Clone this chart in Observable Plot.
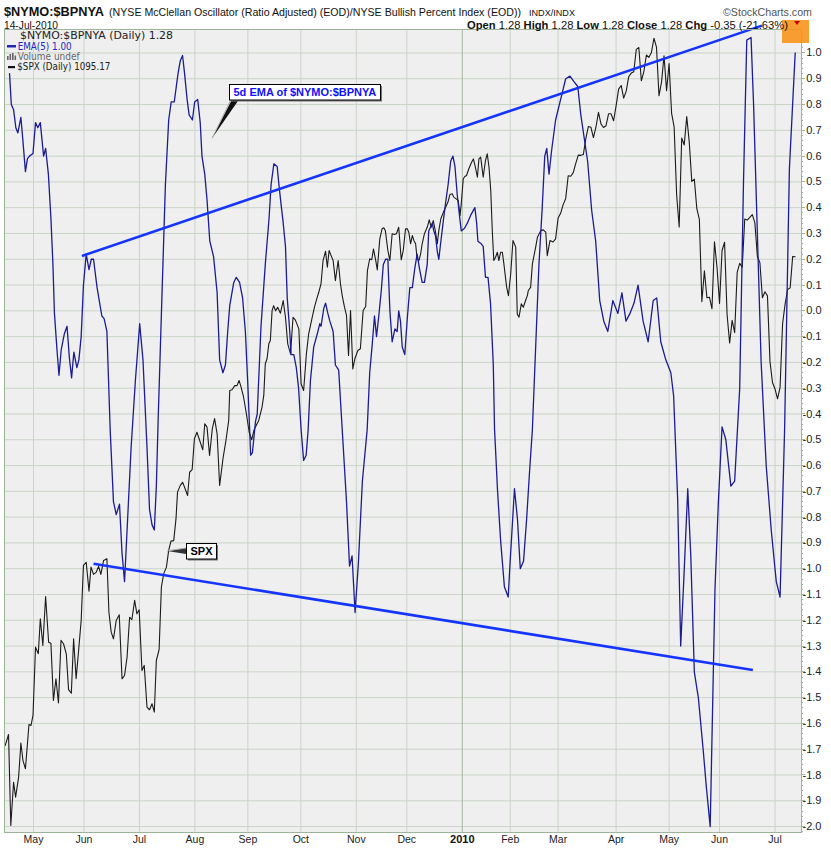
<!DOCTYPE html>
<html><head><meta charset="utf-8">
<script src="https://cdn.jsdelivr.net/npm/d3@7"></script>
<script src="https://cdn.jsdelivr.net/npm/@observablehq/plot@0.6"></script>
<style>
body{margin:0;background:#fff;}
#wrap{position:relative;width:831px;height:848px;overflow:hidden;}
#wrap svg{position:absolute;left:0;top:0;}
</style></head><body><div id="wrap"></div>
<script>
// ---- axis tick values / labels (x = trading-day index, 0 = 1 May 2009) ----
const yTicks = d3.range(-20, 11).map(d => d / 10);
const yMinor = d3.range(-101, 55).map(d => d / 50);
const monthDays = [0,20,42,64,85,106,128,148,170,189,208,231,252,272,294];
const monthLabels = ["May","Jun","Jul","Aug","Sep","Oct","Nov","Dec","2010","Feb","Mar","Apr","May","Jun","Jul"];

// ---- EMA(5) of $NYMO:$BPNYA  [trading day, value] ----
const ema = [[-9.5,0.92],[-8.8,0.80],[-7.9,0.78],[-7.0,0.71],[-6.2,0.69],[-5.0,0.75],[-4.2,0.66],[-3.2,0.54],[-2.4,0.59],[-1.6,0.60],[-0.2,0.61],[0.8,0.73],[1.7,0.71],[2.7,0.73],[4.0,0.60],[4.8,0.63],[5.9,0.53],[6.9,0.36],[7.7,0.18],[8.3,-0.01],[9.3,-0.15],[10.1,-0.25],[11.0,-0.15],[12.2,-0.09],[13.3,-0.06],[14.2,-0.18],[15.1,-0.26],[16.0,-0.16],[17.2,-0.22],[18.0,-0.19],[18.9,-0.10],[19.8,0.10],[20.9,0.22],[22.0,0.16],[22.9,0.20],[23.8,0.20],[25.2,0.09],[27.1,-0.02],[28.0,-0.03],[29.1,-0.08],[30.4,-0.46],[31.7,-0.74],[32.8,-0.79],[34.1,-0.75],[35.1,-0.94],[36.1,-1.05],[37.3,-0.81],[38.7,-0.53],[40.4,-0.27],[42.1,-0.05],[43.4,-0.19],[45.0,-0.53],[46.0,-0.77],[47.0,-0.83],[47.9,-0.85],[48.7,-0.68],[49.4,-0.43],[50.9,0.05],[52.3,0.49],[53.6,0.74],[54.6,0.81],[55.8,0.81],[57.3,0.92],[58.2,0.97],[59.1,0.99],[59.9,0.92],[60.9,0.82],[61.7,0.76],[63.0,0.74],[63.9,0.81],[65.1,0.82],[66.1,0.73],[66.8,0.60],[67.9,0.53],[68.8,0.43],[69.9,0.27],[71.4,0.21],[72.8,0.07],[73.8,-0.19],[75.1,-0.24],[76.1,-0.21],[77.0,-0.08],[77.8,0.02],[79.4,0.11],[80.4,0.13],[81.7,0.11],[82.9,0.05],[84.0,-0.08],[84.9,-0.27],[85.7,-0.46],[86.1,-0.56],[86.8,-0.55],[88.0,-0.43],[88.7,-0.40],[90.2,-0.06],[91.9,0.18],[93.4,0.36],[94.2,0.49],[95.3,0.57],[96.6,0.56],[97.4,0.48],[98.3,0.40],[98.9,0.35],[99.9,0.25],[100.6,0.05],[101.6,-0.08],[102.1,-0.17],[103.2,-0.17],[104.2,-0.22],[105.1,-0.30],[106.1,-0.46],[107.1,-0.58],[108.1,-0.56],[108.9,-0.46],[109.8,-0.27],[111.1,-0.14],[112.5,-0.09],[113.5,-0.05],[114.0,-0.06],[115.1,0.01],[115.8,0.03],[116.7,-0.01],[117.5,-0.04],[118.8,-0.08],[119.7,-0.21],[121.0,-0.23],[122.4,-0.46],[124.1,-0.74],[125.3,-0.99],[126.3,-0.95],[127.5,-1.17],[128.8,-0.98],[130.4,-0.66],[132.3,-0.46],[133.3,-0.24],[134.3,-0.13],[135.2,-0.02],[136.0,-0.10],[136.9,-0.02],[137.9,0.08],[138.7,0.18],[139.6,0.20],[140.5,0.20],[141.3,0.00],[142.2,-0.12],[143.3,-0.07],[144.2,-0.08],[144.8,0.00],[145.5,-0.04],[146.2,-0.14],[147.2,-0.17],[148.2,-0.03],[149.2,0.09],[150.2,0.09],[151.1,0.16],[152.1,0.22],[153.1,0.16],[154.1,0.11],[155.0,0.11],[156.1,0.18],[156.7,0.31],[158.1,0.34],[158.7,0.31],[159.4,0.29],[160.1,0.23],[160.7,0.20],[161.4,0.26],[162.5,0.35],[163.4,0.42],[164.4,0.49],[165.4,0.58],[166.3,0.60],[167.1,0.56],[168.0,0.45],[169.0,0.36],[169.6,0.31],[170.9,0.32],[172.0,0.34],[173.3,0.37],[175.0,0.40],[175.7,0.34],[176.2,0.27],[177.5,0.26],[178.3,0.25],[179.2,0.13],[180.2,0.13],[181.2,0.03],[182.3,-0.21],[182.8,-0.46],[184.0,-0.70],[185.2,-0.89],[186.7,-1.07],[188.2,-1.11],[189.0,-0.97],[190.7,-0.69],[191.9,-0.81],[193.0,-1.00],[194.3,-0.97],[195.5,-0.81],[196.7,-0.62],[197.8,-0.46],[199.1,-0.14],[200.4,0.18],[201.7,0.40],[202.7,0.60],[203.5,0.63],[204.4,0.53],[205.4,0.62],[207.0,0.74],[209.0,0.82],[211.0,0.90],[212.7,0.91],[214.2,0.89],[215.8,0.87],[217.0,0.76],[218.2,0.68],[219.7,0.58],[221.3,0.39],[222.9,0.27],[224.5,0.04],[226.1,-0.04],[227.7,-0.08],[229.7,0.04],[231.7,-0.01],[233.3,0.07],[234.9,-0.04],[236.5,-0.01],[238.1,0.03],[239.7,0.10],[241.7,-0.04],[243.7,-0.12],[245.7,0.04],[247.1,0.05],[248.7,-0.12],[250.7,-0.19],[252.7,-0.24],[253.8,-0.33],[255.4,-0.73],[256.6,-1.30],[257.8,-1.05],[259.4,-0.69],[260.6,-0.95],[262.0,-1.40],[263.6,-1.50],[265.5,-1.70],[266.8,-1.85],[268.3,-2.00],[270.2,-1.08],[271.5,-0.75],[273.0,-0.45],[274.5,-0.50],[276.5,-0.68],[278.0,-0.66],[280.0,-0.30],[281.5,0.50],[282.8,1.05],[284.5,1.06],[285.5,0.80],[287.0,0.30],[288.5,-0.20],[290.5,-0.60],[292.5,-0.85],[294.5,-1.05],[296.0,-1.11],[297.8,-0.46],[299.7,0.55],[302.0,1.00]];

// ---- $SPX overlay, read against the same axis  [trading day, value] ----
const spx = [[-11.2,-1.685],[-9.9,-1.643],[-9.0,-1.996],[-7.9,-1.828],[-7.1,-1.886],[-5.9,-1.808],[-5.0,-1.676],[-4.2,-1.743],[-3.2,-1.776],[-1.8,-1.604],[-1.0,-1.608],[-0.2,-1.569],[0.8,-1.304],[1.9,-1.33],[2.7,-1.194],[3.7,-1.298],[4.8,-1.108],[6.0,-1.285],[6.9,-1.289],[7.9,-1.511],[8.9,-1.427],[9.9,-1.521],[10.9,-1.278],[11.9,-1.291],[13.0,-1.33],[13.9,-1.469],[15.0,-1.483],[15.9,-1.272],[16.9,-1.427],[18.0,-1.304],[18.9,-1.201],[19.8,-0.987],[20.9,-0.975],[22.0,-1.087],[22.8,-0.994],[23.8,-1.022],[24.9,-1.013],[25.8,-0.991],[26.7,-1.022],[27.8,-0.968],[29.1,-0.961],[29.9,-1.169],[30.8,-1.246],[31.7,-1.272],[32.8,-1.201],[34.0,-1.179],[35.1,-1.427],[36.1,-1.414],[37.1,-1.343],[38.1,-1.188],[39.0,-1.198],[40.1,-1.123],[41.0,-1.175],[41.9,-1.159],[43.0,-1.395],[43.9,-1.375],[45.0,-1.537],[46.0,-1.547],[47.0,-1.524],[47.9,-1.556],[48.7,-1.356],[49.8,-1.314],[50.7,-1.072],[51.6,-1.02],[52.7,-0.994],[53.6,-0.929],[54.5,-0.893],[55.6,-0.891],[56.5,-0.806],[57.1,-0.703],[58.2,-0.677],[59.1,-0.665],[59.9,-0.684],[61.1,-0.716],[61.9,-0.626],[62.9,-0.616],[63.8,-0.496],[64.8,-0.471],[65.9,-0.503],[67.1,-0.539],[67.9,-0.438],[68.8,-0.451],[69.8,-0.561],[70.9,-0.457],[71.8,-0.418],[72.8,-0.477],[73.8,-0.677],[75.2,-0.568],[76.3,-0.503],[77.4,-0.425],[77.8,-0.309],[78.7,-0.306],[79.8,-0.29],[80.7,-0.29],[81.5,-0.27],[82.3,-0.296],[83.3,-0.335],[84.4,-0.399],[85.5,-0.47],[86.5,-0.50],[87.5,-0.46],[89.3,-0.425],[90.6,-0.374],[91.3,-0.328],[91.9,-0.205],[92.6,-0.186],[93.3,-0.128],[93.9,-0.115],[94.6,0.001],[95.2,0.02],[96.0,0.0],[96.8,0.014],[97.9,-0.009],[99.0,0.04],[99.9,-0.025],[100.8,-0.128],[101.9,-0.167],[102.9,-0.025],[103.8,-0.035],[105.2,-0.07],[106.1,-0.283],[107.1,-0.309],[108.2,-0.167],[109.1,-0.089],[110.5,-0.025],[111.4,0.014],[112.5,0.053],[113.1,0.072],[114.0,0.105],[114.8,0.195],[115.8,0.231],[116.5,0.169],[117.2,0.234],[118.0,0.214],[118.8,0.195],[119.7,0.117],[120.8,0.195],[121.7,0.105],[122.4,0.059],[123.3,0.014],[124.1,-0.018],[124.9,-0.173],[125.7,0.001],[126.6,-0.225],[127.4,-0.186],[128.6,-0.154],[129.6,-0.147],[130.7,0.001],[131.7,0.017],[132.4,0.156],[133.3,0.202],[134.1,0.198],[134.8,0.24],[135.7,0.195],[136.3,0.159],[137.3,0.279],[138.2,0.318],[138.9,0.322],[139.5,0.311],[140.5,0.234],[141.3,0.195],[142.2,0.299],[143.1,0.296],[143.9,0.299],[144.8,0.324],[145.8,0.198],[146.6,0.234],[147.5,0.318],[148.2,0.318],[148.8,0.305],[149.5,0.26],[150.2,0.292],[150.8,0.273],[151.5,0.26],[152.1,0.202],[152.8,0.195],[153.5,0.221],[154.1,0.26],[155.0,0.299],[156.1,0.324],[156.9,0.353],[157.7,0.324],[158.5,0.35],[159.3,0.311],[160.1,0.26],[160.7,0.311],[161.5,0.357],[162.5,0.382],[163.4,0.402],[164.3,0.421],[165.1,0.451],[166.0,0.454],[166.7,0.44],[167.6,0.434],[168.4,0.428],[169.1,0.369],[169.6,0.415],[170.4,0.512],[171.0,0.521],[171.7,0.525],[172.6,0.551],[173.7,0.576],[174.4,0.589],[175.2,0.557],[176.0,0.518],[176.6,0.589],[177.3,0.596],[178.3,0.518],[179.2,0.583],[179.9,0.609],[180.6,0.557],[181.3,0.466],[181.9,0.311],[182.5,0.195],[183.2,0.208],[183.9,0.227],[184.5,0.195],[185.2,0.227],[185.9,0.227],[186.5,0.182],[187.6,0.091],[188.3,0.059],[189.2,0.143],[190.1,0.273],[191.2,0.247],[191.8,-0.012],[192.5,-0.025],[193.4,0.027],[194.2,0.014],[195.1,0.04],[195.8,0.059],[196.2,0.079],[197.1,0.091],[197.8,0.182],[199.1,0.247],[199.8,0.285],[201.1,0.311],[202.1,0.314],[203.1,0.305],[203.7,0.214],[204.8,0.273],[206,0.267],[207,0.279],[208,0.360],[209,0.378],[210,0.412],[211,0.435],[212,0.524],[213,0.522],[214,0.536],[215,0.572],[216,0.604],[217,0.603],[218,0.606],[219,0.669],[220,0.715],[221,0.712],[222,0.672],[223,0.712],[224,0.770],[225,0.725],[226,0.711],[227,0.718],[228,0.764],[229,0.764],[230,0.737],[231,0.796],[232,0.860],[233,0.874],[234,0.825],[235,0.852],[236,0.908],[237,0.922],[238,0.927],[239,1.014],[240,1.021],[241,0.892],[242,0.928],[243,0.992],[244,0.983],[245,1.002],[246,1.057],[247,1.023],[248,0.834],[249,0.887],[250,0.989],[251,0.854],[252,0.959],[253,0.766],[254,0.713],[255,0.449],[256,0.325],[257,0.670],[258,0.643],[259,0.753],[260,0.654],[261,0.502],[262,0.511],[263,0.396],[264,0.355],[265,0.035],[266,0.155],[267,0.051],[268,0.053],[269,0.008],[270,0.268],[271,0.168],[272,0.029],[273,0.234],[274,0.266],[275,-0.015],[276,-0.125],[277,-0.037],[278,-0.085],[279,0.149],[280,0.184],[281,0.169],[282,0.356],[283,0.352],[284,0.362],[285,0.373],[286,0.342],[287,0.211],[288,0.187],[289,0.051],[290,0.074],[291,0.058],[292,-0.196],[293,-0.278],[294,-0.303],[295,-0.341],[296,-0.297],[297,-0.050],[298,0.026],[299,0.083],[300,0.089],[301,0.211],[302,0.210]];

// ---- hand-drawn trend lines and callouts (data coordinates) ----
const trendLines = [
  {d1: 19.2, v1: 0.213, d2: 288.8, v2: 1.106},
  {d1: 23.8, v1: -0.981, d2: 285.2, v2: -1.393}
];
const notes = [
  {text: "5d EMA of $NYMO:$BPNYA", color: "#1010ff", tipDay: 71.0, tipVal: 0.667, boxDay: 77.7, boxVal: 0.877, side: "bottom"},
  {text: "SPX", color: "#000", tipDay: 53.2, tipVal: -0.933, boxDay: 60.6, boxVal: -0.902, side: "left"}
];

const FONT = "Arial, 'Liberation Sans', sans-serif";

function callouts(index, scales) {
  const g = d3.create("svg:g").attr("text-anchor", "start");
  const ctx = document.createElement("canvas").getContext("2d");
  for (const n of notes) {
    const tx = scales.x(n.tipDay), ty = scales.y(n.tipVal);
    const bx = Math.round(scales.x(n.boxDay)), by = Math.round(scales.y(n.boxVal));
    ctx.font = `bold 11px ${FONT}`;
    const w = Math.round(ctx.measureText(n.text).width + 8), h = 15.5;
    if (n.side === "bottom") {
      g.append("polygon").attr("points", `${bx+3},${by+h} ${bx+10},${by+h} ${tx},${ty}`).attr("fill", "#111");
      g.append("line").attr("x1", bx+2).attr("y1", by+h).attr("x2", tx).attr("y2", ty).attr("stroke", "#aaa").attr("stroke-width", 1);
    } else {
      g.append("polygon").attr("points", `${bx},${by+5} ${bx},${by+11} ${tx},${ty}`).attr("fill", "#333");
      g.append("line").attr("x1", bx).attr("y1", by+5).attr("x2", tx).attr("y2", ty).attr("stroke", "#aaa").attr("stroke-width", 1);
    }
    g.append("rect").attr("x", bx+2).attr("y", by+2).attr("width", w).attr("height", h).attr("fill", "#777");
    g.append("rect").attr("x", bx+0.5).attr("y", by+0.5).attr("width", w).attr("height", h).attr("fill", "#fff").attr("stroke", "#000");
    g.append("text").attr("x", bx+4.5).attr("y", by+h-3.5).attr("fill", n.color)
      .attr("font-family", FONT).attr("font-weight", "bold").attr("font-size", 11).text(n.text);
  }
  return g.node();
}
function axisTicks(index, scales, values, dims) {
  const g = d3.create("svg:g");
  const xr = dims.width - dims.marginRight;
  for (const v of yMinor) {
    const y = Math.round(scales.y(v)) + 0.5;
    const major = Math.abs(v * 10 - Math.round(v * 10)) < 1e-6;
    g.append("line").attr("x1", xr).attr("x2", xr + (major ? 4 : 2)).attr("y1", y).attr("y2", y)
      .attr("stroke", "#9db49a");
  }
  return g.node();
}

const chart = Plot.plot({
  width: 831, height: 848,
  marginTop: 29, marginBottom: 16, marginLeft: 4, marginRight: 30,
  x: {type: "linear", domain: [-11.5, 304.5], axis: null},
  y: {domain: [-2.023, 1.091], axis: null},
  style: {background: "transparent", fontFamily: FONT, overflow: "visible"},
  marks: [
    Plot.frame({fill: "#efefef", stroke: "none"}),
    Plot.ruleY(yTicks, {stroke: "#cad4c7"}),
    Plot.ruleX(monthDays.filter(d => d !== 170), {stroke: "#cad4c7"}),
    Plot.ruleX([170], {stroke: "#a4b8a1"}),
    Plot.line(spx, {x: d => d[0], y: d => d[1], stroke: "#1b1b1b", strokeWidth: 1.1}),
    Plot.line(ema, {x: d => d[0], y: d => d[1], stroke: "#1c1c94", strokeWidth: 1.3}),
    Plot.link(trendLines, {x1: "d1", y1: "v1", x2: "d2", y2: "v2", stroke: "#1434ff", strokeWidth: 2.6}),
    Plot.frame({stroke: "#9db49a"}),
    axisTicks,
    Plot.text(yTicks, {y: d => d, frameAnchor: "right", dx: 20, textAnchor: "end", text: d => d.toFixed(1), fontSize: 11, fill: "#222"}),
    Plot.text(monthDays.filter(d => d !== 170), {x: d => d, frameAnchor: "bottom", dy: 10, text: d => monthLabels[monthDays.indexOf(d)], fontSize: 10.5, fill: "#222"}),
    Plot.text([170], {x: d => d, frameAnchor: "bottom", dy: 10, text: d => monthLabels[monthDays.indexOf(d)], fontSize: 11, fontWeight: "bold", fill: "#111"}),
    callouts
  ]
});
document.getElementById("wrap").appendChild(chart);

// ---- header + legend overlay ----
const ov = d3.select("#wrap").append("svg").attr("width", 831).attr("height", 848)
  .style("pointer-events", "none").attr("font-family", FONT);
ov.append("rect").attr("x", 782).attr("y", 20).attr("width", 27).attr("height", 23).attr("fill", "#f7941d").attr("opacity", 0.9);
function T(x, y, s, size, opts = {}) {
  const t = ov.append("text").attr("x", x).attr("y", y).attr("font-size", size).attr("fill", opts.fill || "#111")
    .attr("font-weight", opts.bold ? "bold" : "normal").text(s);
  if (opts.len) t.attr("textLength", opts.len).attr("lengthAdjust", "spacingAndGlyphs");
  if (opts.family) t.attr("font-family", opts.family);
  return t;
}
T(4, 16, "$NYMO:$BPNYA", 13, {bold: true, len: 100});
T(109, 15.5, "(NYSE McClellan Oscillator (Ratio Adjusted) (EOD)/NYSE Bullish Percent Index (EOD))", 10.6, {len: 412});
T(529, 15.5, "INDX/INDX", 9, {len: 46});
T(723, 15.5, "©StockCharts.com", 11, {fill: "#555", len: 89});
T(4, 28.5, "14-Jul-2010", 10.5, {len: 54});
const ohlc = ov.append("text").attr("x", 467).attr("y", 28.5).attr("font-size", 11.5).attr("fill", "#111")
  .attr("textLength", 321).attr("lengthAdjust", "spacingAndGlyphs");
[["Open", 1], [" 1.28 ", 0], ["High", 1], [" 1.28 ", 0], ["Low", 1], [" 1.28 ", 0], ["Close", 1], [" 1.28 ", 0], ["Chg", 1], [" -0.35 (-21.63%)", 0]]
  .forEach(([s, b]) => ohlc.append("tspan").attr("font-weight", b ? "bold" : "normal").text(s));
ov.append("polygon").attr("points", "794,21 800,21 797,25").attr("fill", "#c00000");

// legend
const LF = "'DejaVu Sans', Verdana, sans-serif";
T(20, 39, "$NYMO:$BPNYA (Daily) 1.28", 10, {family: LF, len: 153, fill: "#222"});
ov.append("rect").attr("x", 7).attr("y", 45).attr("width", 9).attr("height", 2.5).attr("fill", "#2424b8");
T(17.7, 49.5, "EMA(5) 1.00", 10, {family: LF, len: 54, fill: "#2424c0"});
[[7, 56], [9.5, 54], [12, 53], [14.5, 55.5]].forEach(([x, y]) =>
  ov.append("rect").attr("x", x).attr("y", y).attr("width", 1.6).attr("height", 60 - y).attr("fill", "#666"));
T(17.7, 59.5, "Volume undef", 10, {family: LF, len: 62, fill: "#666"});
ov.append("rect").attr("x", 8).attr("y", 66).attr("width", 7).attr("height", 2.2).attr("fill", "#111");
T(17.3, 70, "$SPX (Daily) 1095.17", 10, {family: LF, len: 93, fill: "#222"});
</script></body></html>
